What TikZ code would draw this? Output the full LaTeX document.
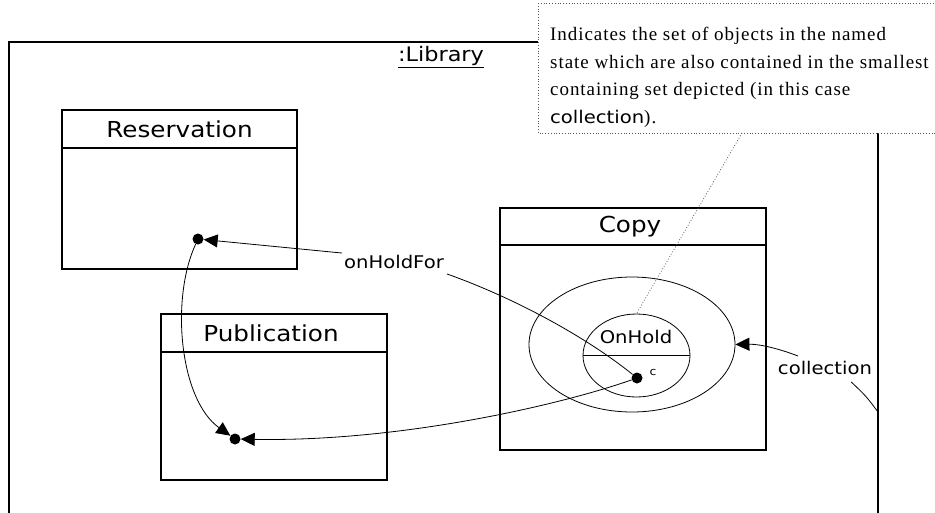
\documentclass[tikz,border=0pt]{standalone}
\usepackage{fontspec}
\setmainfont{Liberation Serif}
\newfontfamily\comic[FakeStretch=1.12]{DejaVu Sans}
\newfontfamily\notefont[LetterSpace=5]{Liberation Serif}
\usetikzlibrary{arrows.meta,shapes.geometric}
\tikzset{
  frame/.style={draw, line width=2pt},
  box/.style={draw, line width=1.6pt, inner sep=0pt},
  title/.style={font=\comic\fontsize{22}{26}\selectfont, inner sep=1pt},
  lbl/.style={font=\comic\fontsize{17.5}{20}\selectfont, inner sep=1pt},
  thin/.style={draw, line width=0.8pt},
  conn/.style={line width=0.8pt},
  arr/.style={line width=0.8pt, -{Triangle[length=14pt,width=13pt]}},
  dot/.style={circle, fill, inner sep=0pt, minimum size=11pt},
  notebox/.style={draw=black!65, fill=white, dotted, line width=0.8pt},
  noteline/.style={draw=black!65, dotted, line width=0.8pt},
  notetxt/.style={font=\notefont\fontsize{19}{22}\selectfont, inner sep=0pt, anchor=base west}
}
\begin{document}
\begin{tikzpicture}[x=1pt,y=-1pt]
\useasboundingbox (0,0) rectangle (935,512);
\clip (0,0) rectangle (935,512);
% library frame
\draw[frame] (9,42) rectangle (878,560);
\node[title, font=\comic\fontsize{20}{24}\selectfont] (lib) at (441,57) {\underline{:Library}};
\coordinate (libR) at (878,412);
% Reservation
\node[box, minimum width=235pt, minimum height=159pt] (res) at (179.5,189.5) {};
\draw[line width=1.6pt] (62,148) -- (297,148);
\node[title] (rest) at (179.5,129) {Reservation};
% Publication
\node[box, minimum width=226pt, minimum height=166pt] (pub) at (274,397) {};
\draw[line width=1.6pt] (161,352) -- (387,352);
\node[title] (pubt) at (271,333) {Publication};
% Copy
\node[box, minimum width=266pt, minimum height=242pt] (copy) at (633,329) {};
\draw[line width=1.6pt] (500,245) -- (766,245);
\node[title] (copyt) at (630,227) {Copy};
% ellipses
\node[thin, ellipse, minimum width=206pt, minimum height=135pt, inner sep=0pt] (outer) at (632,344.5) {};
\node[thin, ellipse, minimum width=107pt, minimum height=83pt, inner sep=0pt] (inner) at (636.5,355.5) {};
\draw[conn] (inner.west) -- (inner.east);
\node[lbl] (onhold) at (636,337) {OnHold};
% dots
\node[dot] (resdot) at (198,239) {};
\node[dot] (pubdot) at (235,439) {};
\node[dot] (cdot) at (637,378) {};
\node[font=\comic\fontsize{11}{13}\selectfont, inner sep=0pt] (clbl) at (653,372) {c};
% labels
\node[lbl] (ohf) at (394,262) {onHoldFor};
\node[lbl] (col) at (825,368) {collection};
% connectors
\draw[arr] ([xshift=-1pt,yshift=1pt]ohf.north west) -- (resdot);
\draw[conn] ([xshift=2pt,yshift=-4pt]ohf.south east) .. controls (520,300) and (590,340) .. (cdot);
\draw[arr] (cdot) .. controls (560,405) and (400,442) .. (pubdot);
\draw[arr] (resdot) .. controls (170,300) and (180,400) .. (pubdot);
\draw[arr] ([xshift=-27pt,yshift=4pt]col.north) .. controls (780,349) and (760,344) .. (outer.east);
\draw[conn] ([xshift=-22pt,yshift=-6pt]col.south east) .. controls (866,396) .. (libR);
% note
\draw[notebox] (538,3) rectangle (960,133);
\coordinate (notept) at (742,133);
\node[notetxt] (n1) at (550,40) {Indicates the set of objects in the named};
\node[notetxt] (n2) at (550,68) {state which are also contained in the smallest};
\node[notetxt] (n3) at (550,95.5) {containing set depicted (in this case};
\node[notetxt] (n4) at (550,123) {{\comic\fontsize{17.5}{20}\selectfont collection}).};
\draw[noteline] (notept) -- (inner.north);
\end{tikzpicture}
\end{document}
